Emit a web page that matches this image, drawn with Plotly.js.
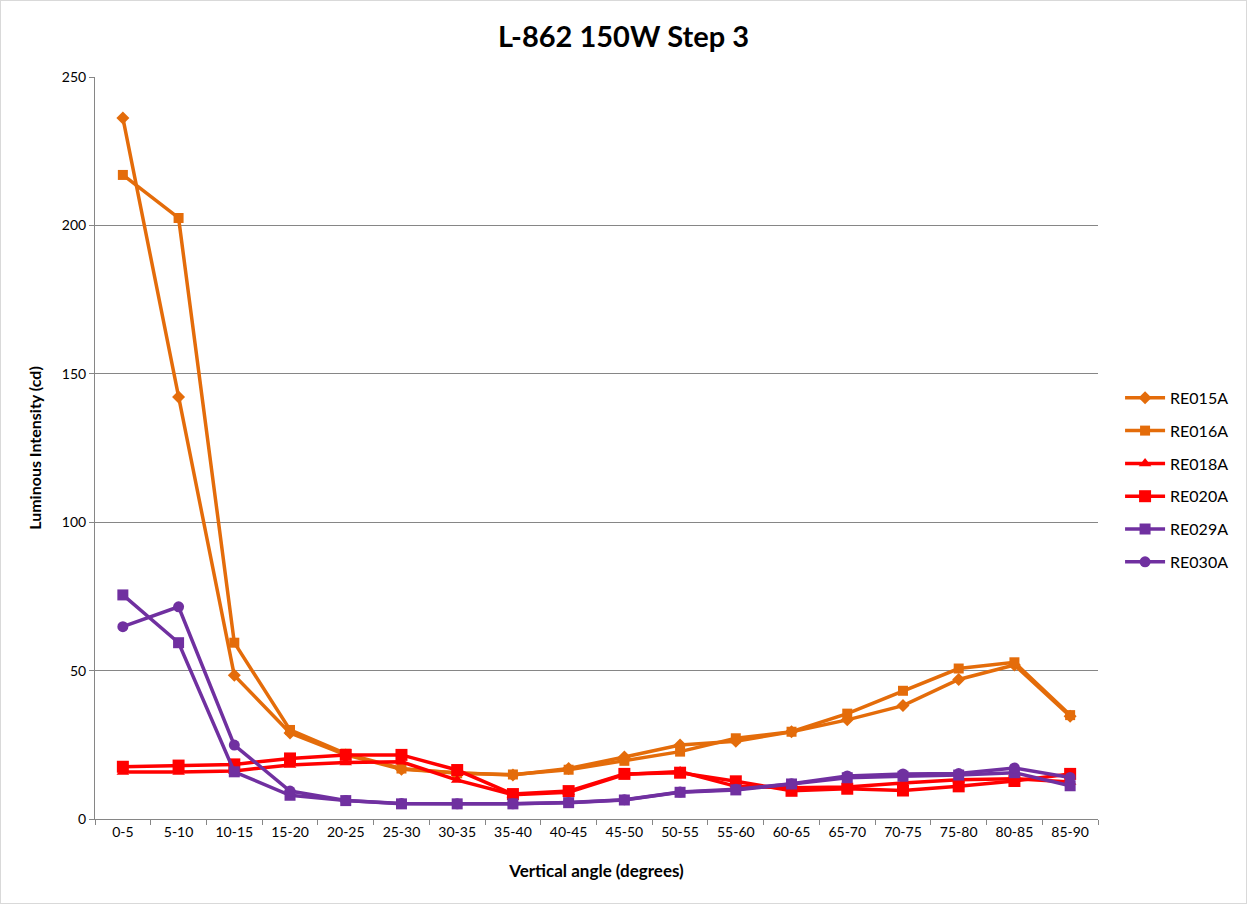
<!DOCTYPE html>
<html><head><meta charset="utf-8">
<script src="https://cdn.plot.ly/plotly-3.0.1.min.js"></script>
<style>body{margin:0;background:#fff}#chart{width:1245px;height:902px;border:1px solid #d9d9d9}</style>
</head><body><div id="chart"></div>
<script>
const categories = ["0-5","5-10","10-15","15-20","20-25","25-30","30-35","35-40","40-45","45-50","50-55","55-60","60-65","65-70","70-75","75-80","80-85","85-90"];
const RE015A = [236.2,142.2,48.4,29.0,21.6,16.8,15.6,14.8,17.0,20.9,24.9,26.2,29.4,33.4,38.2,47.0,51.9,34.6];
const RE016A = [217.0,202.5,59.4,30.0,22.0,17.0,15.4,15.0,16.6,19.6,22.7,27.2,29.4,35.5,43.2,50.7,52.8,35.0];
const RE018A = [15.8,15.8,16.2,18.2,19.0,19.3,13.1,8.2,9.0,15.0,16.0,11.0,10.5,10.8,12.1,13.2,13.6,12.5];
const RE020A = [17.6,18.0,18.4,20.4,21.6,21.6,16.5,8.4,9.4,15.2,15.6,12.7,9.5,10.2,9.6,11.0,12.8,15.2];
const RE029A = [75.5,59.4,15.9,8.0,6.2,5.1,5.1,5.1,5.5,6.4,9.0,9.8,11.8,13.9,14.4,14.8,15.6,11.2];
const RE030A = [64.8,71.5,24.9,9.4,6.2,5.2,5.1,5.1,5.6,6.5,9.1,10.0,11.9,14.5,15.2,15.3,17.2,14.0];

const seriesNames = ["RE015A","RE016A","RE018A","RE020A","RE029A","RE030A"];
const seriesData = [RE015A,RE016A,RE018A,RE020A,RE029A,RE030A];
const colors = ["#E46C0A","#E46C0A","#FF0000","#FF0000","#7030A0","#7030A0"];
const symbols = ["diamond","square","triangle-up","square","square","circle"];
const sizes = [10,10,11,12,11,11];

const traces = seriesNames.map((n,i)=>({
  x: categories, y: seriesData[i], name: n, type:"scatter", mode:"lines+markers",
  legendgroup: n,
  line:{color:colors[i], width:3.5},
  marker:{symbol:symbols[i], size:sizes[i], color:colors[i]}
}));

const font = "Lato, 'Open Sans', sans-serif";
const layout = {
  width:1245, height:902,
  margin:{l:94, r:142, t:76, b:84},
  paper_bgcolor:"#fff", plot_bgcolor:"#fff",
  font:{family:font, color:"#000"},
  title:{text:"<b>L-862 150W Step 3</b>", font:{size:29, family:font, color:"#000"}, x:0.5, xanchor:"center", y:0.96, yanchor:"middle"},
  xaxis:{type:"category", range:[-0.5,17.5], tickson:"boundaries", ticks:"outside", ticklen:5, tickcolor:"#868686",
    showline:true, linecolor:"#868686", linewidth:1, showgrid:false,
    tickfont:{size:14, color:"#000"},
    title:{text:"<b>Vertical angle (degrees)</b>", font:{size:17, color:"#000"}, standoff:26}},
  yaxis:{range:[0,250], dtick:50, ticks:"outside", ticklen:5, tickcolor:"#868686",
    showline:true, linecolor:"#868686", linewidth:1, gridcolor:"#868686", gridwidth:1, zeroline:false,
    tickfont:{size:14, color:"#000"},
    title:{text:"<b>Luminous Intensity (cd)</b>", font:{size:16, color:"#000"}, standoff:16}},
  legend:{x:1.022, xanchor:"left", y:0.457, yanchor:"middle", font:{size:16, color:"#000"},
    traceorder:"grouped", tracegroupgap:9, itemwidth:40, bgcolor:"rgba(0,0,0,0)"},
  showlegend:true
};
Plotly.newPlot("chart", traces, layout, {displayModeBar:false});
</script></body></html>
